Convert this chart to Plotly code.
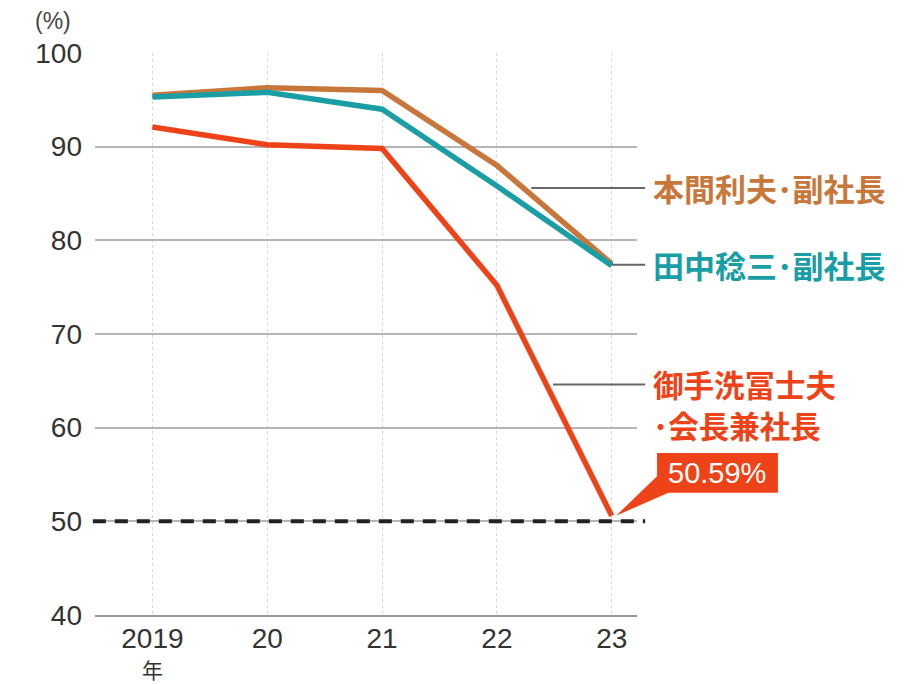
import plotly.graph_objects as go

years = ["2019", "20", "21", "22", "23"]
tick_text = ["2019", "20", "21", "22", "23"]
year_unit = "年"
honma = [95.5, 96.3, 96.0, 88.0, 77.5]
tanaka = [95.3, 95.8, 94.0, 85.8, 77.3]
mitarai = [92.1, 90.2, 89.8, 75.2, 50.59]

C_OR = "#C8773A"
C_TE = "#1A9EA5"
C_RD = "#EE4318"
XR = [-0.5, 4.22]
xs = list(range(len(years)))

def xp(v):
    return (v - XR[0]) / (XR[1] - XR[0])

fig = go.Figure()
for ys, c in [(honma, C_OR), (tanaka, C_TE), (mitarai, C_RD)]:
    fig.add_trace(go.Scatter(x=xs, y=ys, mode="lines",
                             line=dict(color=c, width=5.5), hoverinfo="skip"))

shapes = []
# 50% dashed line
shapes.append(dict(type="line", xref="paper", yref="y", x0=-0.004, x1=1.015, y0=50, y1=50,
                   line=dict(color="#222", width=4, dash="13px,9px"), layer="above"))
# leader lines
shapes.append(dict(type="line", xref="paper", yref="y", x0=0.805, x1=1.015, y0=85.6, y1=85.6,
                   line=dict(color="#666", width=2)))
shapes.append(dict(type="line", xref="paper", yref="y", x0=xp(4), x1=1.015, y0=77.4, y1=77.4,
                   line=dict(color="#666", width=2)))
shapes.append(dict(type="line", xref="paper", yref="y", x0=0.845, x1=1.015, y0=64.6, y1=64.6,
                   line=dict(color="#666", width=2)))
# value box
shapes.append(dict(type="rect", xref="paper", yref="y", x0=1.037, x1=1.260, y0=53.05, y1=57.3,
                   fillcolor=C_RD, line=dict(width=0)))
shapes.append(dict(type="path", xref="paper", yref="y",
                   path=f"M 1.037 54.8 L 1.058 53.05 L {xp(4)+0.008:.4f} 50.6 Z",
                   fillcolor=C_RD, line=dict(width=0)))
fig.update_layout(shapes=shapes)

jp = "Noto Sans CJK JP"
lab = dict(xref="paper", yref="y", x=1.026, xanchor="left", yanchor="middle", showarrow=False)
anns = [
    dict(text="(%)", xref="paper", yref="paper", x=-0.077, y=1.057, xanchor="center",
         yanchor="middle", showarrow=False, font=dict(size=23, color="#444", family="Liberation Sans")),
    dict(text=year_unit, xref="x", yref="paper", x=xs[0], y=-0.096, xanchor="center",
         yanchor="middle", showarrow=False, font=dict(size=21, color="#333", family=jp)),
    dict(text="本間利夫･副社長", y=85.6, font=dict(size=31, color=C_OR, family=jp, weight="bold"), **lab),
    dict(text="田中稔三･副社長", y=77.4, font=dict(size=31, color=C_TE, family=jp, weight="bold"), **lab),
    dict(text="御手洗冨士夫", y=64.7, font=dict(size=30.5, color=C_RD, family=jp, weight="bold"), **lab),
    dict(text="･会長兼社長", y=60.3, font=dict(size=30.5, color=C_RD, family=jp, weight="bold"), **lab),
    dict(text=f"{mitarai[-1]:.2f}%", xref="paper", yref="y", x=1.1485, y=55.2, xanchor="center",
         yanchor="middle", showarrow=False, font=dict(size=29, color="white", family="Liberation Sans")),
]
fig.update_layout(annotations=anns)

fig.update_layout(
    width=904, height=684, showlegend=False,
    margin=dict(l=95, r=267, t=53, b=69, autoexpand=False),
    plot_bgcolor="white", paper_bgcolor="white",
    font=dict(family="Liberation Sans, Noto Sans CJK JP", color="#333"),
    xaxis=dict(range=XR, tickvals=xs, ticktext=tick_text, showgrid=True, automargin=False,
               gridcolor="#d6d6d6", griddash="dot", gridwidth=1, zeroline=False,
               showline=True, linecolor="#999", linewidth=2, ticklabelstandoff=-3,
               tickfont=dict(size=28, color="#333"), ticks="", fixedrange=True),
    yaxis=dict(range=[40, 100], tickvals=[40, 50, 60, 70, 80, 90, 100], showgrid=True,
               automargin=False, gridcolor="#b5b5b5", gridwidth=2, zeroline=False,
               tickfont=dict(size=28, color="#333"), ticklabelstandoff=12, fixedrange=True),
)

fig.write_html("out.html")
